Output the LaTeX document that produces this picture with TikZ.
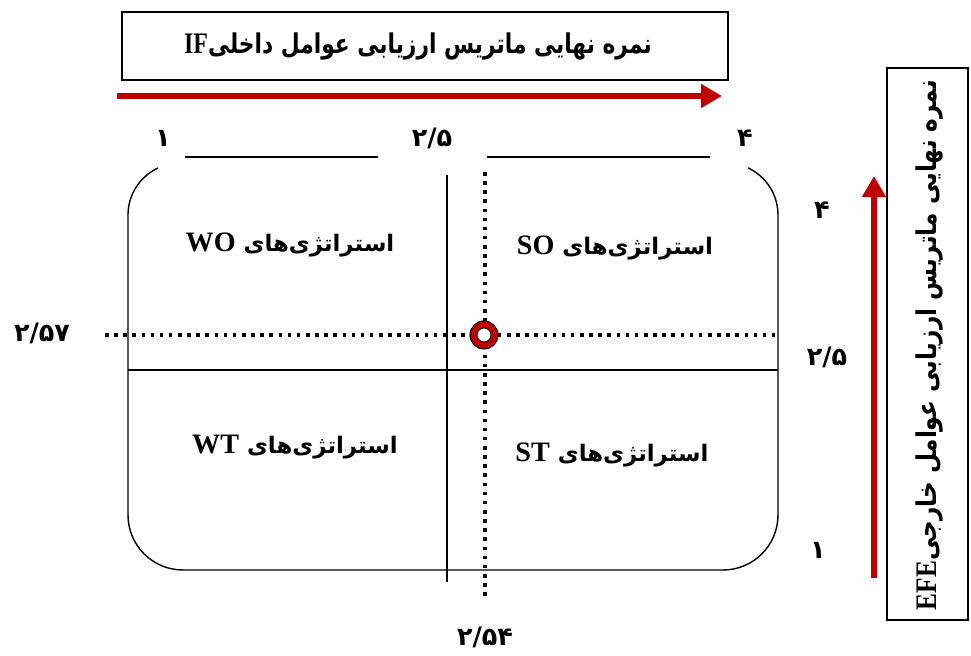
\documentclass[tikz,border=0pt]{standalone}
\usepackage{fontspec}
\usepackage{graphicx}
\usetikzlibrary{arrows.meta}
\TeXXeTstate=1
\newfontfamily\fa[Script=Arabic]{DejaVu Sans}
\newfontfamily\lt{Liberation Serif}
\definecolor{arrred}{HTML}{C00000}
\begin{document}
\begin{tikzpicture}[x=0.02cm,y=0.02cm,
  thinline/.style={line width=0.8pt,black},
  dotline/.style={line width=2pt,dash pattern=on 2pt off 3.2pt,black},
  redarrow/.style={line width=3.4pt,arrred,-{Triangle[length=12pt,width=13pt]}},
  numlbl/.style={font=\fa\bfseries\fontsize{14.5}{16}\selectfont,inner sep=0pt},
  quadlbl/.style={font=\fa\bfseries\fontsize{13}{15}\selectfont,inner sep=0pt},
  titletext/.style={font=\fa\bfseries\fontsize{15.5}{18}\selectfont,inner sep=0pt},
  titlebox/.style={draw,line width=0.8pt,inner sep=0pt}]
\useasboundingbox (0,0) rectangle (971,656);
% top title box
\node[titlebox,minimum width=606*0.02cm,minimum height=68*0.02cm] (topbox) at (425,610) {};
\node[titletext] (toptext) at (418,610) {\scalebox{0.8}[1]{\beginR نمره نهایی ماتریس ارزیابی عوامل داخلی{\lt\bfseries\fontsize{17}{18}\selectfont\beginL IF\endL}\endR}};
% horizontal red arrow
\coordinate (ha0) at (117,560);
\coordinate (ha1) at (722,560);
\draw[redarrow] (ha0) -- (ha1);
% top scale labels
\node[numlbl] (t1) at (163,518) {۱};
\node[numlbl] (t25) at (432,518) {۲/۵};
\node[numlbl] (t4) at (745,518) {۴};
\coordinate (tl0) at (185,499); \coordinate (tl1) at (378,499);
\coordinate (tr0) at (487,499); \coordinate (tr1) at (710,499);
\draw[thinline] (tl0) -- (tl1);
\draw[thinline] (tr0) -- (tr1);
% rounded frame, open at top
\coordinate (fs) at (158,488);
\draw[thinline] (fs) arc[start angle=115,end angle=180,radius=1.04cm]
  -- (128,141) arc[start angle=180,end angle=270,radius=1.1cm]
  -- (723,86) arc[start angle=270,end angle=360,radius=1.1cm]
  -- (778,441) arc[start angle=0,end angle=65,radius=1.04cm];
% solid dividing lines
\coordinate (sv0) at (447,481); \coordinate (sv1) at (447,74);
\coordinate (sh0) at (128,286); \coordinate (sh1) at (778,286);
\draw[thinline] (sv0) -- (sv1);
\draw[thinline] (sh0) -- (sh1);
% dotted lines
\coordinate (dv0) at (485,484); \coordinate (dv1) at (485,56);
\coordinate (dh0) at (105,321); \coordinate (dh1) at (778,321);
\draw[dotline] (dv0) -- (dv1);
\draw[dotline] (dh0) -- (dh1);
% point marker
\node[circle,draw=black,line width=0.6pt,fill=arrred,minimum size=28*0.02cm,inner sep=0pt] (pt) at (484,321) {};
\node[circle,draw=black,line width=0.5pt,fill=white,minimum size=14*0.02cm,inner sep=0pt] (ptin) at (pt) {};
% axis value labels
\node[numlbl] (lv) at (42,323) {۲/۵۷};
\node[numlbl] (bv) at (485,19) {۲/۵۴};
\node[numlbl] (r4) at (822,446) {۴};
\node[numlbl] (r25) at (827,299) {۲/۵};
\node[numlbl] (r1) at (818,106) {۱};
% quadrant labels
\node[quadlbl] (wo) at (290,411) {\beginR استراتژی‌های {\lt\bfseries\fontsize{16}{18}\selectfont\beginL WO\endL}\endR};
\node[quadlbl] (so) at (615,408) {\beginR استراتژی‌های {\lt\bfseries\fontsize{16}{18}\selectfont\beginL SO\endL}\endR};
\node[quadlbl] (wt) at (295,209) {\beginR استراتژی‌های {\lt\bfseries\fontsize{16}{18}\selectfont\beginL WT\endL}\endR};
\node[quadlbl] (st) at (612,201) {\beginR استراتژی‌های {\lt\bfseries\fontsize{16}{18}\selectfont\beginL ST\endL}\endR};
% vertical red arrow
\coordinate (va0) at (874,78);
\coordinate (va1) at (874,480);
\draw[redarrow] (va0) -- (va1);
% right title box
\node[titlebox,minimum width=81*0.02cm,minimum height=552*0.02cm] (rightbox) at (927.5,312) {};
\node[titletext,rotate=90] (righttext) at (929,311) {\scalebox{0.85}[1]{\beginR نمره نهایی ماتریس ارزیابی عوامل خارجی{\lt\bfseries\fontsize{17}{18}\selectfont\beginL EFE\endL}\endR}};
\end{tikzpicture}
\end{document}
